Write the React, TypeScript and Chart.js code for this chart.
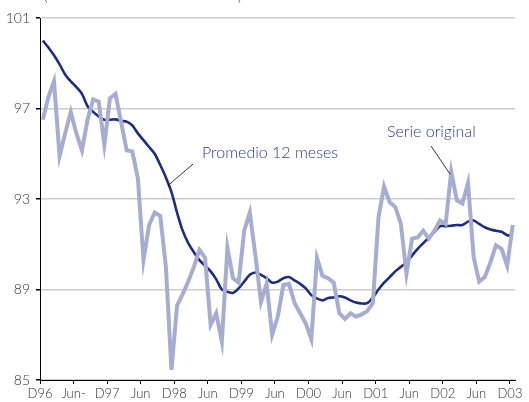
import React, { useEffect, useRef } from "react";
import { Chart, registerables } from "chart.js";

Chart.register(...registerables);

const tickLabels = ["D96", "Jun-", "D97", "Jun", "D98", "Jun", "D99", "Jun", "D00", "Jun", "D01", "Jun", "D02", "Jun", "D03"];

const serieOriginal = [
  96.5, 97.5, 98.2, 94.9, 95.9, 96.85, 95.9, 95.15, 96.5, 97.4, 97.3, 95.4, 97.45, 97.65, 96.4, 95.15, 95.1,
  93.9, 90.3, 91.85, 92.4, 92.25, 90.0, 85.45, 88.3, 88.8, 89.35, 90.0, 90.75, 90.4, 87.45, 87.95, 86.7,
  90.85, 89.5, 89.3, 91.6, 92.4, 90.5, 88.45, 89.25, 87.0, 87.8, 89.2, 89.25, 88.4, 87.95, 87.5, 86.8,
  90.4, 89.6, 89.5, 89.3, 87.95, 87.7, 87.95, 87.8, 87.9, 88.05, 88.4, 92.2, 93.55, 92.85, 92.65, 91.9,
  89.7, 91.25, 91.3, 91.6, 91.25, 91.6, 92.05, 91.9, 94.2, 92.95, 92.8, 93.7, 90.45, 89.35, 89.55, 90.2,
  90.95, 90.8, 90.05, 91.85,
];

const promedio12 = [
  100.0, 99.7, 99.35, 98.95, 98.5, 98.2, 97.95, 97.65, 97.1, 96.85, 96.65, 96.5, 96.5, 96.52, 96.45, 96.42,
  96.25, 95.9, 95.6, 95.3, 95.0, 94.5, 93.95, 93.3, 92.4, 91.6, 91.05, 90.65, 90.3, 90.05, 89.8, 89.45,
  89.0, 88.9, 88.85, 89.05, 89.35, 89.65, 89.75, 89.65, 89.5, 89.3, 89.35, 89.5, 89.55, 89.4, 89.25, 89.05,
  88.75, 88.6, 88.52, 88.62, 88.65, 88.7, 88.65, 88.52, 88.42, 88.38, 88.4, 88.65, 89.0, 89.3, 89.55, 89.8,
  90.0, 90.2, 90.5, 90.8, 91.05, 91.3, 91.55, 91.8, 91.8, 91.82, 91.85, 91.85, 92.0, 92.05, 91.9, 91.75,
  91.65, 91.6, 91.55, 91.4, 91.4,
];

const FONT = "Lato, 'Noto Sans', sans-serif";

const annotations = {
  id: "annotations",
  afterDraw(chart: any) {
    const ctx = chart.ctx;
    const xs = chart.scales.x;
    const ys = chart.scales.y;
    ctx.save();
    ctx.fillStyle = "#2b3a8c";
    ctx.font = `300 16px ${FONT}`;
    ctx.textBaseline = "alphabetic";
    ctx.fillText("Promedio 12 meses", 202, 158);
    ctx.fillText("Serie original", 387, 137);
    ctx.font = `300 14px ${FONT}`;
    ctx.fillText("(", 44, 1);
    ctx.fillText(")", 238, 1);
    ctx.strokeStyle = "#000";
    ctx.lineWidth = 0.8;
    ctx.beginPath();
    ctx.moveTo(193, 164);
    ctx.lineTo(xs.getPixelForValue(22.4), ys.getPixelForValue(93.6));
    ctx.moveTo(431, 146);
    ctx.lineTo(xs.getPixelForValue(72.8), ys.getPixelForValue(94.1));
    ctx.stroke();
    ctx.restore();
  },
};

export default function App() {
  const ref = useRef<HTMLCanvasElement>(null);
  useEffect(() => {
    document.body.style.margin = "0";
    const chart = new Chart(ref.current!, {
      type: "line",
      data: {
        datasets: [
          {
            label: "Serie original",
            data: serieOriginal.map((v, i) => ({ x: i, y: v })),
            borderColor: "#a5aed1",
            borderWidth: 4,
            pointRadius: 0,
            tension: 0,
          },
          {
            label: "Promedio 12 meses",
            data: promedio12.map((v, i) => ({ x: i, y: v })),
            borderColor: "#1e2d7c",
            borderWidth: 2.6,
            pointRadius: 0,
            tension: 0.3,
          },
        ],
      },
      options: {
        animation: false,
        responsive: false,
        layout: { padding: { top: 18, right: 14, left: 0, bottom: 0 } },
        plugins: { legend: { display: false }, tooltip: { enabled: false }, title: { display: false } },
        scales: {
          x: {
            type: "linear",
            min: -0.5,
            max: 84.4,
            afterBuildTicks(scale: any) {
              scale.ticks = tickLabels.map((_, k) => ({ value: k * 6 - 0.5 }));
            },
            afterFit(scale: any) {
              scale.height = 22;
            },
            border: { display: true, color: "#000", width: 1 },
            grid: { drawOnChartArea: false, drawTicks: true, tickLength: 4, tickColor: "#000" },
            ticks: {
              autoSkip: false,
              maxRotation: 0,
              padding: 2,
              color: "#333",
              font: { family: FONT, size: 13, weight: "300" },
              callback: (v: any, idx: number) => tickLabels[idx],
            },
          },
          y: {
            min: 85,
            max: 101,
            afterBuildTicks(scale: any) {
              scale.ticks = [85, 89, 93, 97, 101].map((v) => ({ value: v }));
            },
            afterFit(scale: any) {
              scale.width = 40;
            },
            border: { display: true, color: "#000", width: 1 },
            grid: { color: "#cccccc", lineWidth: 1.5, tickLength: 4, tickColor: "#000" },
            ticks: {
              padding: 6,
              color: "#333",
              font: { family: FONT, size: 14, weight: "300" },
            },
          },
        },
      },
      plugins: [annotations],
    });
    return () => chart.destroy();
  }, []);
  return (
    <div style={{ width: 529, height: 402 }}>
      <canvas ref={ref} width={529} height={402} style={{ display: "block" }} />
    </div>
  );
}
